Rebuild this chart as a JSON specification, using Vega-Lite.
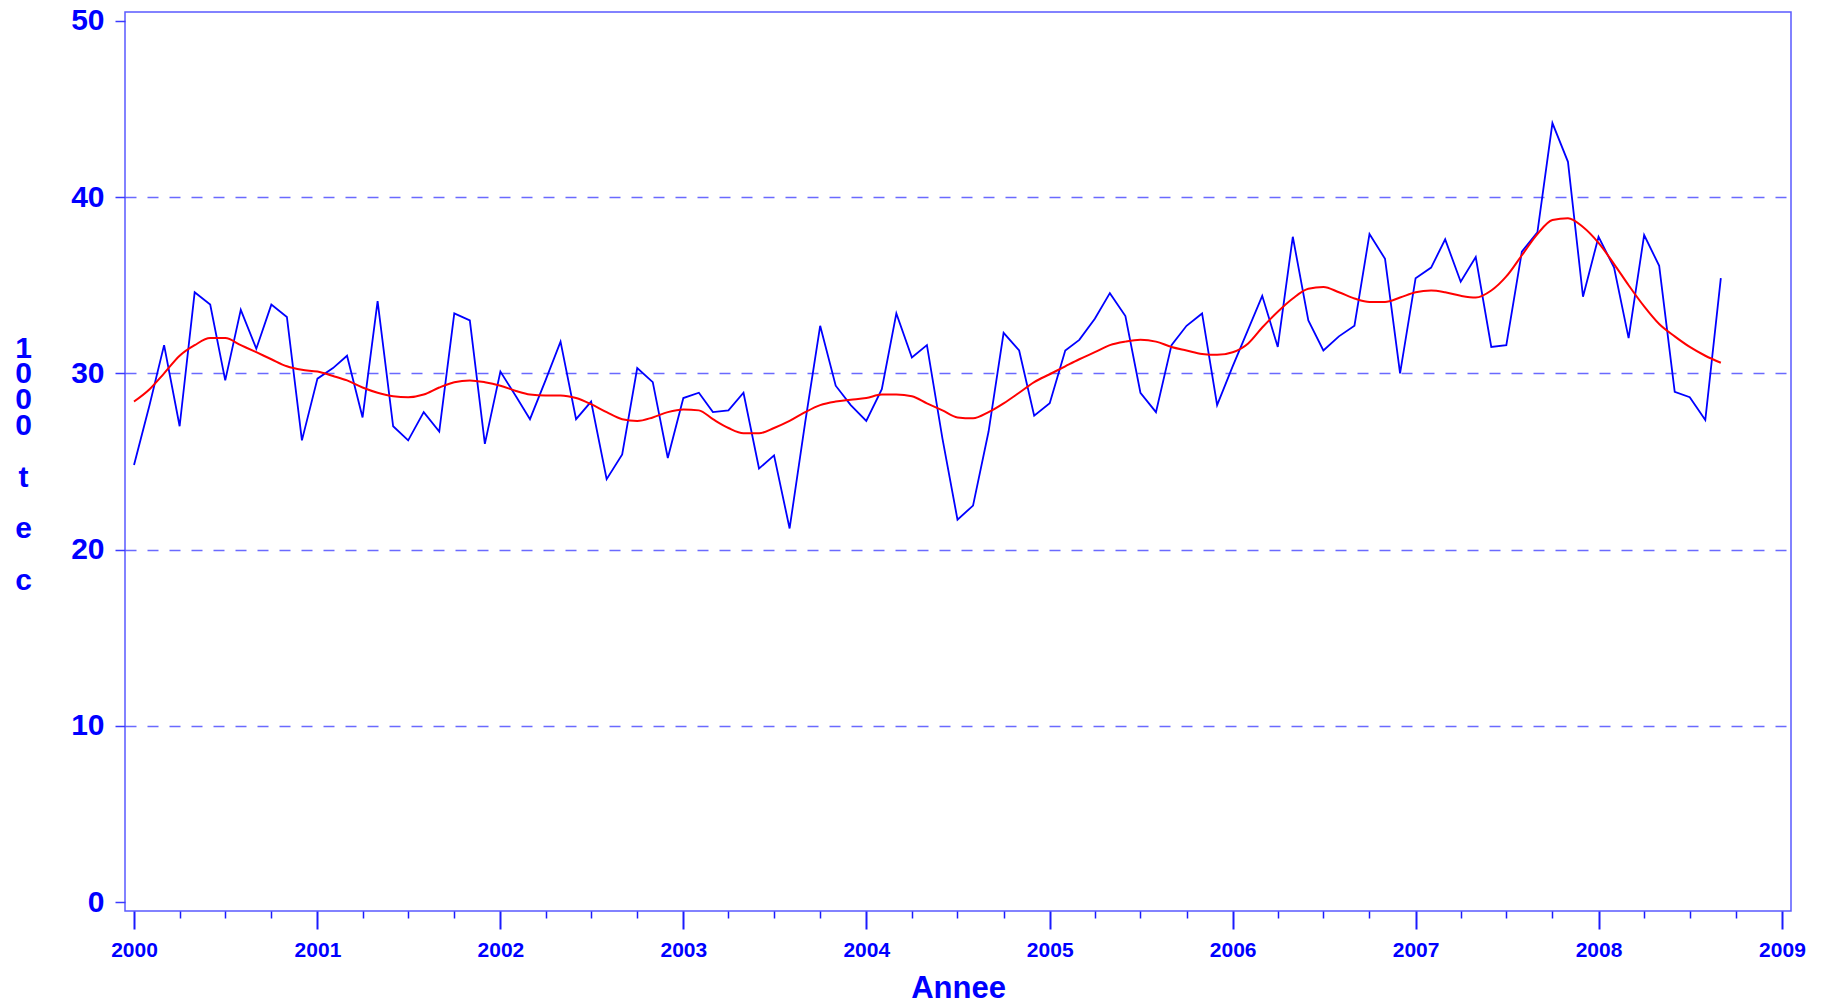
{
  "$schema": "https://vega.github.io/schema/vega-lite/v6.json",
  "autosize": {"type": "none"},
  "padding": {"left": 125, "top": 12, "right": 38, "bottom": 94},
  "width": 1666,
  "height": 899,
  "background": "white",
  "config": {
    "font": "Liberation Sans",
    "view": {"stroke": "#5a5aff", "strokeWidth": 1.5}
  },
  "data": {
    "values": [
      {"date": "2000-01-01", "raw": 24.8, "smooth": 28.4},
      {"date": "2000-02-01", "raw": 28.2, "smooth": 29.1},
      {"date": "2000-03-01", "raw": 31.6, "smooth": 30.0},
      {"date": "2000-04-01", "raw": 27.0, "smooth": 31.0},
      {"date": "2000-05-01", "raw": 34.6, "smooth": 31.6},
      {"date": "2000-06-01", "raw": 33.9, "smooth": 32.0},
      {"date": "2000-07-01", "raw": 29.6, "smooth": 32.0},
      {"date": "2000-08-01", "raw": 33.6, "smooth": 31.6},
      {"date": "2000-09-01", "raw": 31.4, "smooth": 31.2},
      {"date": "2000-10-01", "raw": 33.9, "smooth": 30.8},
      {"date": "2000-11-01", "raw": 33.2, "smooth": 30.4},
      {"date": "2000-12-01", "raw": 26.2, "smooth": 30.2},
      {"date": "2001-01-01", "raw": 29.7, "smooth": 30.1},
      {"date": "2001-02-01", "raw": 30.3, "smooth": 29.85},
      {"date": "2001-03-01", "raw": 31.0, "smooth": 29.6},
      {"date": "2001-04-01", "raw": 27.5, "smooth": 29.2},
      {"date": "2001-05-01", "raw": 34.1, "smooth": 28.9},
      {"date": "2001-06-01", "raw": 27.0, "smooth": 28.7},
      {"date": "2001-07-01", "raw": 26.2, "smooth": 28.65},
      {"date": "2001-08-01", "raw": 27.8, "smooth": 28.8},
      {"date": "2001-09-01", "raw": 26.7, "smooth": 29.2},
      {"date": "2001-10-01", "raw": 33.4, "smooth": 29.5},
      {"date": "2001-11-01", "raw": 33.0, "smooth": 29.6},
      {"date": "2001-12-01", "raw": 26.0, "smooth": 29.5},
      {"date": "2002-01-01", "raw": 30.1, "smooth": 29.3},
      {"date": "2002-02-01", "raw": 28.7, "smooth": 29.0},
      {"date": "2002-03-01", "raw": 27.4, "smooth": 28.8},
      {"date": "2002-04-01", "raw": 29.6, "smooth": 28.75},
      {"date": "2002-05-01", "raw": 31.8, "smooth": 28.75},
      {"date": "2002-06-01", "raw": 27.4, "smooth": 28.6},
      {"date": "2002-07-01", "raw": 28.4, "smooth": 28.25},
      {"date": "2002-08-01", "raw": 24.0, "smooth": 27.8},
      {"date": "2002-09-01", "raw": 25.4, "smooth": 27.4},
      {"date": "2002-10-01", "raw": 30.3, "smooth": 27.3},
      {"date": "2002-11-01", "raw": 29.5, "smooth": 27.5},
      {"date": "2002-12-01", "raw": 25.2, "smooth": 27.8},
      {"date": "2003-01-01", "raw": 28.6, "smooth": 27.95},
      {"date": "2003-02-01", "raw": 28.9, "smooth": 27.9},
      {"date": "2003-03-01", "raw": 27.8, "smooth": 27.4},
      {"date": "2003-04-01", "raw": 27.9, "smooth": 26.9},
      {"date": "2003-05-01", "raw": 28.9, "smooth": 26.6},
      {"date": "2003-06-01", "raw": 24.6, "smooth": 26.6},
      {"date": "2003-07-01", "raw": 25.35, "smooth": 26.9},
      {"date": "2003-08-01", "raw": 21.2, "smooth": 27.3},
      {"date": "2003-09-01", "raw": 27.2, "smooth": 27.8},
      {"date": "2003-10-01", "raw": 32.7, "smooth": 28.2},
      {"date": "2003-11-01", "raw": 29.3, "smooth": 28.4},
      {"date": "2003-12-01", "raw": 28.2, "smooth": 28.5},
      {"date": "2004-01-01", "raw": 27.3, "smooth": 28.6},
      {"date": "2004-02-01", "raw": 29.1, "smooth": 28.8},
      {"date": "2004-03-01", "raw": 33.4, "smooth": 28.8},
      {"date": "2004-04-01", "raw": 30.9, "smooth": 28.7},
      {"date": "2004-05-01", "raw": 31.6, "smooth": 28.3},
      {"date": "2004-06-01", "raw": 26.3, "smooth": 27.9},
      {"date": "2004-07-01", "raw": 21.7, "smooth": 27.5},
      {"date": "2004-08-01", "raw": 22.5, "smooth": 27.45},
      {"date": "2004-09-01", "raw": 26.7, "smooth": 27.8},
      {"date": "2004-10-01", "raw": 32.3, "smooth": 28.3},
      {"date": "2004-11-01", "raw": 31.3, "smooth": 28.9},
      {"date": "2004-12-01", "raw": 27.6, "smooth": 29.5},
      {"date": "2005-01-01", "raw": 28.3, "smooth": 29.95},
      {"date": "2005-02-01", "raw": 31.3, "smooth": 30.4},
      {"date": "2005-03-01", "raw": 31.9, "smooth": 30.8},
      {"date": "2005-04-01", "raw": 33.1, "smooth": 31.2},
      {"date": "2005-05-01", "raw": 34.55, "smooth": 31.6},
      {"date": "2005-06-01", "raw": 33.25, "smooth": 31.8},
      {"date": "2005-07-01", "raw": 28.9, "smooth": 31.9},
      {"date": "2005-08-01", "raw": 27.8, "smooth": 31.8},
      {"date": "2005-09-01", "raw": 31.6, "smooth": 31.5},
      {"date": "2005-10-01", "raw": 32.7, "smooth": 31.3},
      {"date": "2005-11-01", "raw": 33.4, "smooth": 31.1},
      {"date": "2005-12-01", "raw": 28.2, "smooth": 31.05},
      {"date": "2006-01-01", "raw": 30.4, "smooth": 31.2},
      {"date": "2006-02-01", "raw": 32.5, "smooth": 31.7},
      {"date": "2006-03-01", "raw": 34.4, "smooth": 32.6},
      {"date": "2006-04-01", "raw": 31.5, "smooth": 33.5},
      {"date": "2006-05-01", "raw": 37.75, "smooth": 34.25},
      {"date": "2006-06-01", "raw": 33.0, "smooth": 34.8},
      {"date": "2006-07-01", "raw": 31.3, "smooth": 34.9},
      {"date": "2006-08-01", "raw": 32.1, "smooth": 34.6},
      {"date": "2006-09-01", "raw": 32.7, "smooth": 34.25},
      {"date": "2006-10-01", "raw": 37.9, "smooth": 34.05},
      {"date": "2006-11-01", "raw": 36.5, "smooth": 34.05},
      {"date": "2006-12-01", "raw": 30.0, "smooth": 34.3},
      {"date": "2007-01-01", "raw": 35.4, "smooth": 34.6},
      {"date": "2007-02-01", "raw": 36.0, "smooth": 34.7},
      {"date": "2007-03-01", "raw": 37.6, "smooth": 34.6},
      {"date": "2007-04-01", "raw": 35.2, "smooth": 34.4},
      {"date": "2007-05-01", "raw": 36.6, "smooth": 34.3},
      {"date": "2007-06-01", "raw": 31.5, "smooth": 34.7},
      {"date": "2007-07-01", "raw": 31.6, "smooth": 35.5},
      {"date": "2007-08-01", "raw": 36.9, "smooth": 36.7},
      {"date": "2007-09-01", "raw": 38.0, "smooth": 37.9},
      {"date": "2007-10-01", "raw": 44.2, "smooth": 38.7},
      {"date": "2007-11-01", "raw": 42.0, "smooth": 38.8},
      {"date": "2007-12-01", "raw": 34.35, "smooth": 38.3},
      {"date": "2008-01-01", "raw": 37.75, "smooth": 37.4},
      {"date": "2008-02-01", "raw": 36.0, "smooth": 36.2},
      {"date": "2008-03-01", "raw": 32.0, "smooth": 35.0},
      {"date": "2008-04-01", "raw": 37.85, "smooth": 33.8},
      {"date": "2008-05-01", "raw": 36.1, "smooth": 32.8},
      {"date": "2008-06-01", "raw": 28.95, "smooth": 32.1},
      {"date": "2008-07-01", "raw": 28.65, "smooth": 31.5},
      {"date": "2008-08-01", "raw": 27.35, "smooth": 31.0},
      {"date": "2008-09-01", "raw": 35.4, "smooth": 30.6}
    ]
  },
  "layer": [
    {
      "mark": {"type": "line", "color": "#0000ff", "strokeWidth": 1.8},
      "encoding": {
        "x": {
          "field": "date",
          "type": "temporal",
          "scale": {
            "type": "utc",
            "domain": [
              {"year": 1999, "month": 12, "date": 14, "utc": true},
              {"year": 2009, "month": 1, "date": 19, "utc": true}
            ],
            "nice": false
          },
          "axis": {
            "orient": "bottom",
            "values": [
              {"year": 2000, "utc": true}, {"year": 2001, "utc": true}, {"year": 2002, "utc": true},
              {"year": 2003, "utc": true}, {"year": 2004, "utc": true}, {"year": 2005, "utc": true},
              {"year": 2006, "utc": true}, {"year": 2007, "utc": true}, {"year": 2008, "utc": true},
              {"year": 2009, "utc": true}
            ],
            "format": "%Y",
            "domain": false,
            "grid": false,
            "tickSize": 18,
            "tickWidth": 2,
            "tickColor": "#1a1aff",
            "labelFont": "Liberation Sans",
            "labelFontSize": 21,
            "labelFontWeight": "bold",
            "labelColor": "#0000ff",
            "labelPadding": 10,
            "labelFlush": false,
            "labelOverlap": false,
            "title": "Annee",
            "titleFont": "Liberation Sans",
            "titleFontSize": 31,
            "titleFontWeight": "bold",
            "titleColor": "#0000ff",
            "titleBaseline": "alphabetic",
            "titleY": 86
          }
        },
        "y": {
          "field": "raw",
          "type": "quantitative",
          "scale": {"domain": [-0.5, 50.5], "nice": false, "zero": false},
          "axis": {
            "values": [0, 10, 20, 30, 40, 50],
            "domain": false,
            "tickSize": 10,
            "tickWidth": 1.5,
            "tickColor": "#3a3aff",
            "labelFont": "Liberation Sans",
            "labelFontSize": 30,
            "labelFontWeight": "bold",
            "labelColor": "#0000ff",
            "labelPadding": 11,
            "grid": true,
            "gridColor": "#6a6aff",
            "gridWidth": 1.5,
            "gridDash": [11, 11],
            "gridOpacity": {"condition": {"test": "datum.value == 0 || datum.value == 50", "value": 0}, "value": 1},
            "title": ["1", "0", "0", "0", "\u200b", "t", "\u200b", "e", "\u200b", "c"],
            "titleAngle": 0,
            "titleAlign": "center",
            "titleBaseline": "middle",
            "titleX": -102,
            "titleY": 336,
            "titleFont": "Liberation Sans",
            "titleFontSize": 30,
            "titleFontWeight": "bold",
            "titleColor": "#0000ff",
            "titleLineHeight": 25.8
          }
        }
      }
    },
    {
      "mark": {"type": "line", "color": "#ff0000", "strokeWidth": 2, "interpolate": "monotone"},
      "encoding": {
        "x": {
          "field": "date",
          "type": "temporal",
          "axis": {
            "orient": "bottom",
            "values": [
              {"year": 2000, "month": 4, "utc": true}, {"year": 2000, "month": 7, "utc": true}, {"year": 2000, "month": 10, "utc": true},
              {"year": 2001, "month": 4, "utc": true}, {"year": 2001, "month": 7, "utc": true}, {"year": 2001, "month": 10, "utc": true},
              {"year": 2002, "month": 4, "utc": true}, {"year": 2002, "month": 7, "utc": true}, {"year": 2002, "month": 10, "utc": true},
              {"year": 2003, "month": 4, "utc": true}, {"year": 2003, "month": 7, "utc": true}, {"year": 2003, "month": 10, "utc": true},
              {"year": 2004, "month": 4, "utc": true}, {"year": 2004, "month": 7, "utc": true}, {"year": 2004, "month": 10, "utc": true},
              {"year": 2005, "month": 4, "utc": true}, {"year": 2005, "month": 7, "utc": true}, {"year": 2005, "month": 10, "utc": true},
              {"year": 2006, "month": 4, "utc": true}, {"year": 2006, "month": 7, "utc": true}, {"year": 2006, "month": 10, "utc": true},
              {"year": 2007, "month": 4, "utc": true}, {"year": 2007, "month": 7, "utc": true}, {"year": 2007, "month": 10, "utc": true},
              {"year": 2008, "month": 4, "utc": true}, {"year": 2008, "month": 7, "utc": true}, {"year": 2008, "month": 10, "utc": true}
            ],
            "labels": false,
            "domain": false,
            "grid": false,
            "tickSize": 7,
            "tickWidth": 1.5,
            "tickColor": "#1a1aff",
            "title": null
          }
        },
        "y": {"field": "smooth", "type": "quantitative"}
      }
    }
  ],
  "resolve": {"axis": {"x": "independent"}}
}
